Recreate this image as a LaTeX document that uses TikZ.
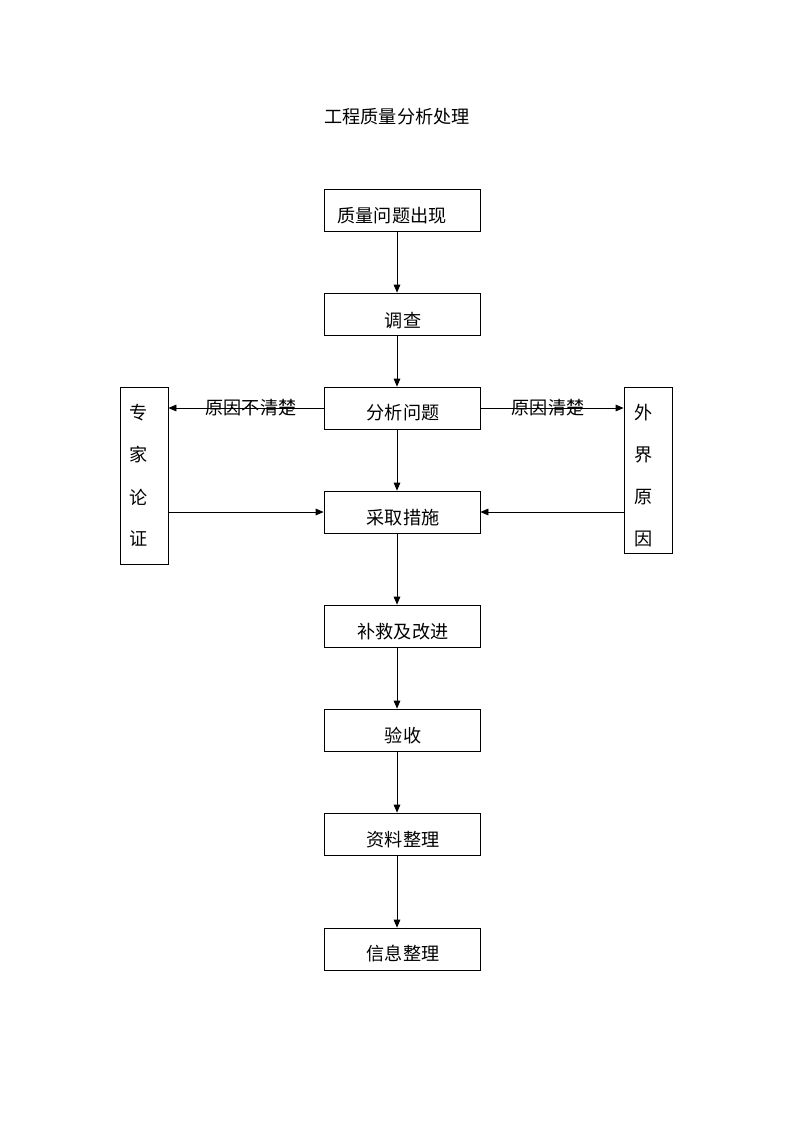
\documentclass[tikz,border=0pt]{standalone}
\usepackage{fontspec}
\newfontfamily\cjk{Noto Sans CJK SC}
\usetikzlibrary{arrows.meta}
\begin{document}
\begin{tikzpicture}[x=0.75pt,y=-0.75pt,
  box/.style={draw,line width=0.6pt,inner sep=0pt},
  lbl/.style={font=\cjk\fontsize{13.6}{15}\selectfont,inner sep=0pt},
  arr/.style={draw,line width=0.6pt,-{Triangle[length=6pt,width=5pt]}}]
\useasboundingbox (0,0) rectangle (794,1123);
\node[lbl] (title) at (397,117) {工程质量分析处理};
% center boxes
\node[box,minimum width=117pt,minimum height=31.5pt] (b1) at (402,210) {};
\node[box,minimum width=117pt,minimum height=31.5pt] (b2) at (402,314) {};
\node[box,minimum width=117pt,minimum height=31.5pt] (b3) at (402,408) {};
\node[box,minimum width=117pt,minimum height=31.5pt] (b4) at (402,512) {};
\node[box,minimum width=117pt,minimum height=31.5pt] (b5) at (402,626) {};
\node[box,minimum width=117pt,minimum height=31.5pt] (b6) at (402,730) {};
\node[box,minimum width=117pt,minimum height=31.5pt] (b7) at (402,834) {};
\node[box,minimum width=117pt,minimum height=31.5pt] (b8) at (402,949) {};
\node[lbl] (t1) at (392,216) {质量问题出现};
\node[lbl] (t2) at (403,321) {调查};
\node[lbl] (t3) at (403,413) {分析问题};
\node[lbl] (t4) at (403,518) {采取措施};
\node[lbl] (t5) at (403,632) {补救及改进};
\node[lbl] (t6) at (403,736) {验收};
\node[lbl] (t7) at (403,840) {资料整理};
\node[lbl] (t8) at (403,954) {信息整理};
% side boxes
\node[box,minimum width=36pt,minimum height=132.75pt] (L) at (144,475.5) {};
\node[box,minimum width=36pt,minimum height=124.5pt] (R) at (648,470) {};
\node[lbl] (l1) at (139,413) {专};
\node[lbl] (l2) at (139,455) {家};
\node[lbl] (l3) at (139,497) {论};
\node[lbl] (l4) at (139,539) {证};
\node[lbl] (r1) at (644,413) {外};
\node[lbl] (r2) at (644,455) {界};
\node[lbl] (r3) at (644,497) {原};
\node[lbl] (r4) at (644,539) {因};
% vertical arrows
\coordinate (x) at (397,0);
\draw[arr] (b1.south -| x) -- (b2.north -| x);
\draw[arr] (b2.south -| x) -- (b3.north -| x);
\draw[arr] (b3.south -| x) -- (b4.north -| x);
\draw[arr] (b4.south -| x) -- (b5.north -| x);
\draw[arr] (b5.south -| x) -- (b6.north -| x);
\draw[arr] (b6.south -| x) -- (b7.north -| x);
\draw[arr] (b7.south -| x) -- (b8.north -| x);
% side arrows
\draw[arr] (b3.west) -- (b3.west -| L.east);
\draw[arr] (b3.east) -- (b3.east -| R.west);
\coordinate (y2) at (0,512);
\draw[arr] (L.east |- y2) -- (b4.west);
\draw[arr] (R.west |- y2) -- (b4.east);
\node[lbl] (n1) at (251,408) {原因不清楚};
\node[lbl] (n2) at (548,408) {原因清楚};
\end{tikzpicture}
\end{document}
